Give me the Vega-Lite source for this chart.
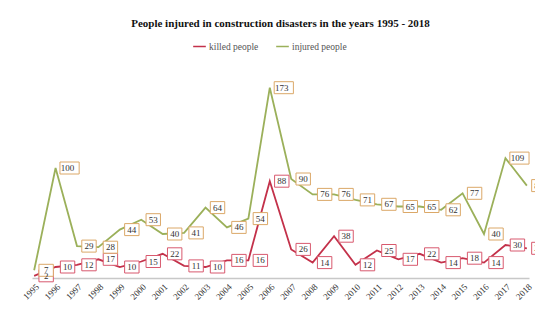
{
  "$schema": "https://vega.github.io/schema/vega-lite/v6.json",
  "autosize": "none",
  "width": 497,
  "height": 198,
  "padding": {"left": 32, "top": 80, "right": 6, "bottom": 32},
  "background": "white",
  "title": {
    "text": "People injured in construction disasters in the years 1995 - 2018",
    "font": "Liberation Serif",
    "fontSize": 11,
    "fontWeight": "bold",
    "color": "#111111",
    "anchor": "middle",
    "offset": 10
  },
  "data": {
    "values": [
      {"year": "1995", "series": "killed people", "value": 2},
      {"year": "1996", "series": "killed people", "value": 10},
      {"year": "1997", "series": "killed people", "value": 12},
      {"year": "1998", "series": "killed people", "value": 17},
      {"year": "1999", "series": "killed people", "value": 10},
      {"year": "2000", "series": "killed people", "value": 15},
      {"year": "2001", "series": "killed people", "value": 22},
      {"year": "2002", "series": "killed people", "value": 11},
      {"year": "2003", "series": "killed people", "value": 10},
      {"year": "2004", "series": "killed people", "value": 16},
      {"year": "2005", "series": "killed people", "value": 16},
      {"year": "2006", "series": "killed people", "value": 88},
      {"year": "2007", "series": "killed people", "value": 26},
      {"year": "2008", "series": "killed people", "value": 14},
      {"year": "2009", "series": "killed people", "value": 38},
      {"year": "2010", "series": "killed people", "value": 12},
      {"year": "2011", "series": "killed people", "value": 25},
      {"year": "2012", "series": "killed people", "value": 17},
      {"year": "2013", "series": "killed people", "value": 22},
      {"year": "2014", "series": "killed people", "value": 14},
      {"year": "2015", "series": "killed people", "value": 18},
      {"year": "2016", "series": "killed people", "value": 14},
      {"year": "2017", "series": "killed people", "value": 30},
      {"year": "2018", "series": "killed people", "value": 27},
      {"year": "1995", "series": "injured people", "value": 7},
      {"year": "1996", "series": "injured people", "value": 100},
      {"year": "1997", "series": "injured people", "value": 29},
      {"year": "1998", "series": "injured people", "value": 28},
      {"year": "1999", "series": "injured people", "value": 44},
      {"year": "2000", "series": "injured people", "value": 53},
      {"year": "2001", "series": "injured people", "value": 40},
      {"year": "2002", "series": "injured people", "value": 41},
      {"year": "2003", "series": "injured people", "value": 64},
      {"year": "2004", "series": "injured people", "value": 46},
      {"year": "2005", "series": "injured people", "value": 54},
      {"year": "2006", "series": "injured people", "value": 173},
      {"year": "2007", "series": "injured people", "value": 90},
      {"year": "2008", "series": "injured people", "value": 76},
      {"year": "2009", "series": "injured people", "value": 76},
      {"year": "2010", "series": "injured people", "value": 71},
      {"year": "2011", "series": "injured people", "value": 67},
      {"year": "2012", "series": "injured people", "value": 65},
      {"year": "2013", "series": "injured people", "value": 65},
      {"year": "2014", "series": "injured people", "value": 62},
      {"year": "2015", "series": "injured people", "value": 77},
      {"year": "2016", "series": "injured people", "value": 40},
      {"year": "2017", "series": "injured people", "value": 109},
      {"year": "2018", "series": "injured people", "value": 84}
    ]
  },
  "encoding": {
    "x": {
      "field": "year",
      "type": "ordinal",
      "scale": {"type": "point", "padding": 0.1},
      "axis": {
        "title": null,
        "labelAngle": -45,
        "labelFont": "Liberation Serif",
        "labelFontSize": 9,
        "labelColor": "#333333",
        "ticks": false,
        "domainColor": "#c8c8c8",
        "domainWidth": 1.5,
        "labelPadding": 4,
        "grid": false
      }
    },
    "y": {
      "field": "value",
      "type": "quantitative",
      "scale": {"domain": [0, 180], "nice": false},
      "axis": null
    }
  },
  "layer": [
    {
      "mark": {"type": "line", "strokeWidth": 1.8},
      "encoding": {
        "color": {
          "field": "series",
          "type": "nominal",
          "scale": {"domain": ["killed people", "injured people"], "range": ["#c3314a", "#9bb05a"]},
          "sort": ["killed people", "injured people"],
          "legend": {
            "title": null,
            "orient": "none",
            "direction": "horizontal",
            "legendX": 160,
            "legendY": -41,
            "symbolType": "stroke",
            "symbolSize": 160,
            "symbolStrokeWidth": 1.5,
            "labelFont": "Liberation Serif",
            "labelFontSize": 9.5,
            "labelColor": "#555555",
            "columnPadding": 14,
            "labelOffset": 2
          }
        }
      }
    },
    {
      "transform": [{"filter": "datum.value < 100"}],
      "mark": {"type": "point", "shape": "M-1.2,-1L1.2,-1L1.2,1L-1.2,1Z", "size": 144, "filled": false, "fill": "white", "fillOpacity": 1, "strokeWidth": 1, "xOffset": 12, "opacity": 1},
      "encoding": {
        "stroke": {
          "field": "series",
          "type": "nominal",
          "scale": {"domain": ["killed people", "injured people"], "range": ["#d8596e", "#dba868"]},
          "legend": null
        }
      }
    },
    {
      "transform": [{"filter": "datum.value >= 100"}],
      "mark": {"type": "point", "shape": "M-1.6,-1L1.6,-1L1.6,1L-1.6,1Z", "size": 144, "filled": false, "fill": "white", "fillOpacity": 1, "strokeWidth": 1, "xOffset": 14, "opacity": 1},
      "encoding": {
        "stroke": {
          "field": "series",
          "type": "nominal",
          "scale": {"domain": ["killed people", "injured people"], "range": ["#d8596e", "#dba868"]},
          "legend": null
        }
      }
    },
    {
      "mark": {"type": "text", "font": "Liberation Serif", "fontSize": 9, "color": "#333333", "dx": 12, "align": "center", "baseline": "middle"},
      "encoding": {
        "text": {"field": "value", "type": "quantitative"}
      }
    }
  ],
  "config": {
    "view": {"stroke": null}
  }
}
